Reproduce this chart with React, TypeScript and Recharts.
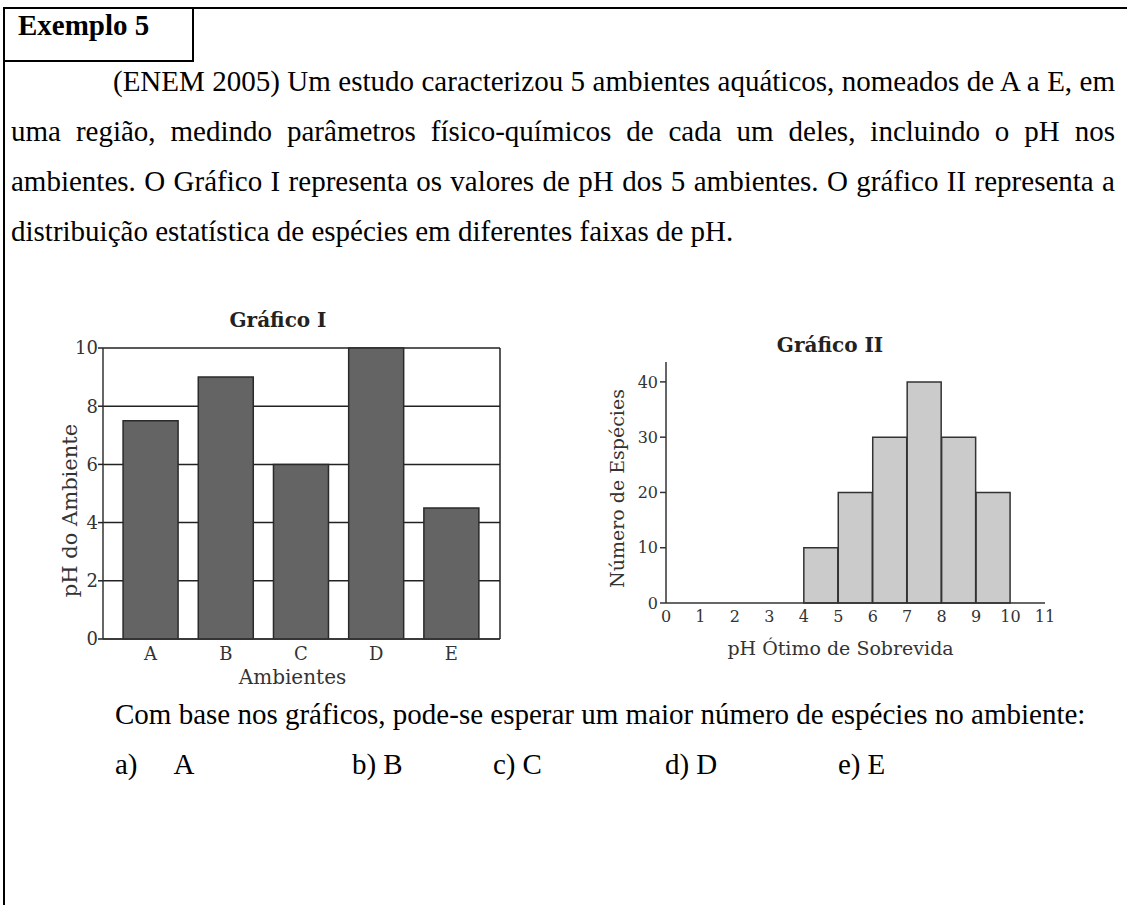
import { Bar, BarChart, CartesianGrid, Label, XAxis, YAxis } from "recharts";

// Gráfico I: pH de cada ambiente
const ambientes = ["A", "B", "C", "D", "E"];
const phAmbiente = [7.5, 9, 6, 10, 4.5];
const phTicks = [0, 2, 4, 6, 8, 10];

// Gráfico II: número de espécies por faixa de pH ótimo (faixas de 1 unidade)
const faixaInicio = [0, 1, 2, 3, 4, 5, 6, 7, 8, 9, 10];
const numEspecies = [0, 0, 0, 0, 10, 20, 30, 40, 30, 20, 0];
const phOtimoTicks = [0, 1, 2, 3, 4, 5, 6, 7, 8, 9, 10, 11];
const especiesTicks = [0, 10, 20, 30, 40];

const enunciado = [
  "(ENEM 2005) Um estudo caracterizou 5 ambientes aquáticos, nomeados de A a E, em",
  "uma região, medindo parâmetros físico-químicos de cada um deles, incluindo o pH nos",
  "ambientes. O Gráfico I representa os valores de pH dos 5 ambientes. O gráfico II representa a",
  "distribuição estatística de espécies em diferentes faixas de pH.",
];
const pergunta = "Com base nos gráficos, pode-se esperar um maior número de espécies no ambiente:";
const alternativas = ["a)", "b)", "c)", "d)", "e)"];
const letras = ["A", "B", "C", "D", "E"];

const chartFont = "'DejaVu Serif', serif";
const pageFont = "'Liberation Serif', 'Times New Roman', serif";

const dadosI = ambientes.map((a, i) => ({ ambiente: a, ph: phAmbiente[i] }));
// each bar sits on the middle of its 1-unit pH bin
const dadosII = faixaInicio.map((p, i) => ({ centro: p + 0.5, especies: numEspecies[i] }));

function axisTitle(text: string, dx: number, dy: number, vertical: boolean, size: number) {
  return (props: any) => {
    const vb = props.viewBox || { x: 0, y: 0, width: 0, height: 0 };
    const cx = vb.x + (vertical ? dx : vb.width / 2 + dx);
    const cy = vb.y + (vertical ? vb.height / 2 + dy : dy);
    return (
      <text
        x={cx}
        y={cy}
        textAnchor="middle"
        dominantBaseline="central"
        transform={vertical ? `rotate(-90 ${cx} ${cy})` : undefined}
        fill="#333"
        fontSize={size}
        fontFamily={chartFont}
      >
        {text}
      </text>
    );
  };
}

function GraficoI() {
  return (
    <BarChart
      width={520}
      height={400}
      data={dadosI}
      margin={{ top: 48, right: 20, left: 0, bottom: 0 }}
      barCategoryGap="13.4%"
    >
      <CartesianGrid
        stroke="#222"
        strokeWidth={1.5}
        verticalCoordinatesGenerator={({ offset }: any) => [offset.left + offset.width]}
      />
      <XAxis
        dataKey="ambiente"
        padding={{ left: 10, right: 11 }}
        tickLine={false}
        tickSize={4}
        tickMargin={4}
        height={61}
        axisLine={{ stroke: "#333", strokeWidth: 1.5 }}
        tick={{ fill: "#333", fontSize: 18, fontFamily: chartFont }}
      >
        <Label content={axisTitle("Ambientes", -9, 38, false, 20)} />
      </XAxis>
      <YAxis
        domain={[0, 10]}
        ticks={phTicks}
        interval={0}
        width={103}
        tickSize={5}
        tickMargin={0}
        axisLine={{ stroke: "#333", strokeWidth: 1.5 }}
        tickLine={{ stroke: "#222", strokeWidth: 1.5 }}
        tick={{ fill: "#333", fontSize: 18, fontFamily: chartFont }}
      >
        <Label content={axisTitle("pH do Ambiente", 70, 17, true, 21)} />
      </YAxis>
      <Bar dataKey="ph" fill="#646464" stroke="#2a2a2a" strokeWidth={1.5} isAnimationActive={false} />
    </BarChart>
  );
}

function GraficoII() {
  return (
    <BarChart
      width={500}
      height={350}
      data={dadosII}
      margin={{ top: 32, right: 15, left: 0, bottom: 0 }}
      barCategoryGap={0}
      barGap={0}
    >
      <XAxis
        dataKey="centro"
        type="number"
        domain={[0, 11]}
        ticks={phOtimoTicks}
        interval={0}
        tickLine={false}
        tickSize={0}
        tickMargin={8}
        height={77}
        axisLine={{ stroke: "#333", strokeWidth: 1.5 }}
        tick={{ fill: "#333", fontSize: 16, fontFamily: chartFont }}
      >
        <Label content={axisTitle("pH Ótimo de Sobrevida", -15, 45, false, 19)} />
      </XAxis>
      <YAxis
        domain={[0, 43.6]}
        ticks={especiesTicks}
        interval={0}
        width={106}
        tickSize={6}
        tickMargin={2}
        axisLine={{ stroke: "#333", strokeWidth: 1.5 }}
        tickLine={{ stroke: "#333", strokeWidth: 1.5 }}
        tick={{ fill: "#333", fontSize: 16, fontFamily: chartFont }}
      >
        <Label content={axisTitle("Número de Espécies", 57, 6, true, 19)} />
      </YAxis>
      <Bar dataKey="especies" fill="#cbcbcb" stroke="#333" strokeWidth={1.5} isAnimationActive={false} />
    </BarChart>
  );
}

const lineStyle: React.CSSProperties = {
  position: "absolute",
  fontSize: 29,
  lineHeight: "50px",
  whiteSpace: "nowrap",
};

const titleStyle: React.CSSProperties = {
  position: "absolute",
  width: 200,
  textAlign: "center",
  fontFamily: chartFont,
  fontWeight: "bold",
  fontSize: 20,
  lineHeight: "24px",
  color: "#222",
};

export default function App() {
  return (
    <div
      style={{
        position: "absolute",
        left: 0,
        top: 0,
        width: 1127,
        height: 905,
        background: "#fff",
        overflow: "hidden",
        fontFamily: pageFont,
        color: "#000",
      }}
    >
      <div
        style={{
          position: "absolute",
          left: 3,
          top: 7,
          width: 1130,
          height: 910,
          borderTop: "2px solid #000",
          borderLeft: "2px solid #000",
        }}
      />
      <div
        style={{
          position: "absolute",
          left: 3,
          top: 7,
          width: 191,
          height: 55,
          boxSizing: "border-box",
          borderRight: "2px solid #000",
          borderBottom: "2px solid #000",
        }}
      />
      <div style={{ position: "absolute", left: 18, top: 11, fontSize: 29, lineHeight: "29px", fontWeight: "bold" }}>
        Exemplo 5
      </div>

      {enunciado.map((linha, i) => {
        const first = i === 0;
        const last = i === enunciado.length - 1;
        return (
          <div
            key={i}
            style={{
              ...lineStyle,
              left: first ? 113 : 11,
              top: 56 + i * 50,
              width: first ? 1002 : 1104,
              textAlign: last ? "left" : "justify",
              textAlignLast: last ? "left" : "justify",
            }}
          >
            {linha}
          </div>
        );
      })}

      <div style={{ ...titleStyle, left: 178, top: 308 }}>Gráfico I</div>
      <div style={{ position: "absolute", left: 0, top: 300 }}>
        <GraficoI />
      </div>

      <div style={{ ...titleStyle, left: 730, top: 333 }}>Gráfico II</div>
      <div style={{ position: "absolute", left: 560, top: 330 }}>
        <GraficoII />
      </div>

      <div style={{ ...lineStyle, left: 115, top: 689 }}>{pergunta}</div>
      {alternativas.map((alt, i) => (
        <div key={alt} style={{ ...lineStyle, left: [115, 352, 493, 665, 838][i], top: 739 }}>
          {alt}
          <span style={{ marginLeft: i === 0 ? 36 : 7 }}>{letras[i]}</span>
        </div>
      ))}
    </div>
  );
}
